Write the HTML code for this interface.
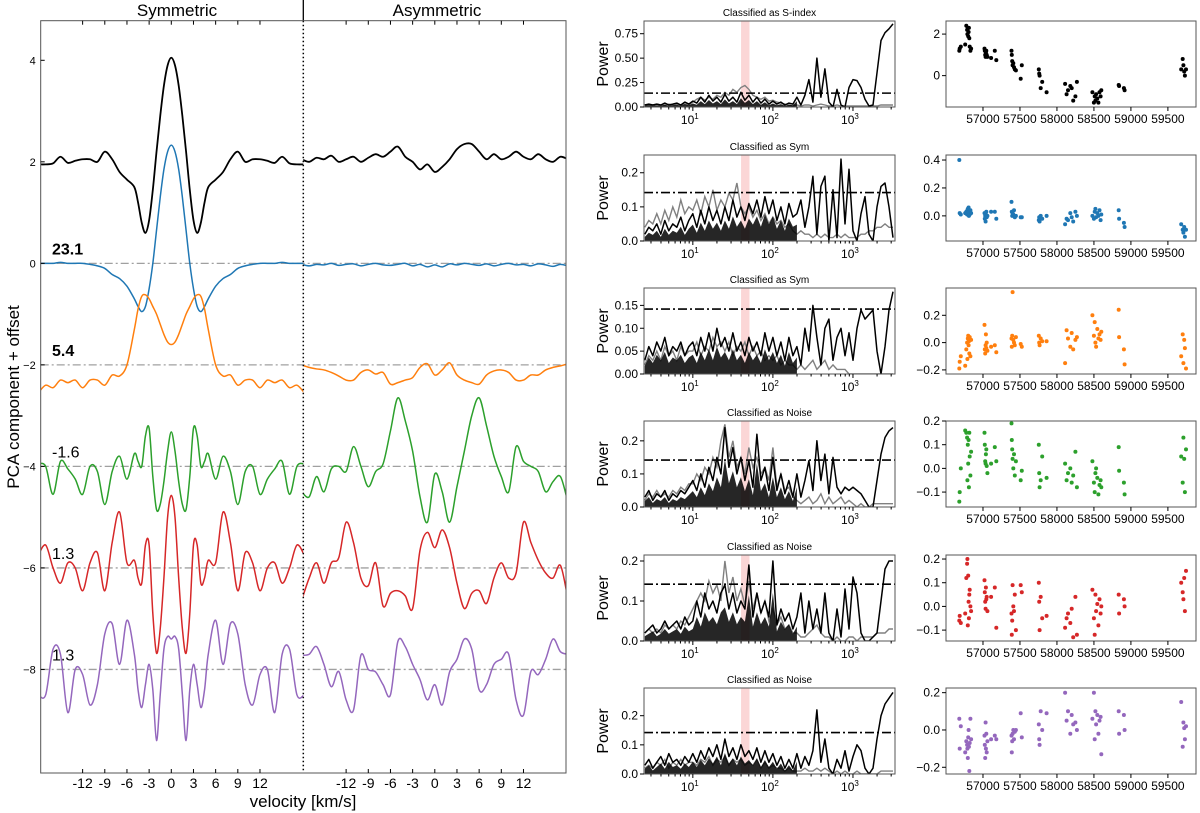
<!DOCTYPE html>
<html><head><meta charset="utf-8">
<style>
html,body{margin:0;padding:0;background:#fff;}
svg{display:block;font-family:"Liberation Sans","DejaVu Sans",sans-serif;}
</style></head>
<body>
<svg id="fig" width="1200" height="813" viewBox="0 0 1200 813" xmlns="http://www.w3.org/2000/svg"></svg>
<script>
// ---------------- DATA ----------------
// Left panel: PCA components (component value, offset added separately)
const offsets = [2, 0, -2, -4, -6, -8];
const colors = ["#000000", "#1f77b4", "#ff7f0e", "#2ca02c", "#d62728", "#9467bd"];
const compLabels = ["", "23.1", "5.4", "-1.6", "1.3", "1.3"];
const symV = [0,0.5,1,1.5,2,2.5,3,3.5,4,4.5,5,6,7,8,9,10,11,12,13,14,15,16,17,18];
const symBlack  = [2.05,1.9,1.5,0.9,0.2,-0.55,-1.15,-1.4,-1.2,-0.8,-0.5,-0.35,-0.2,0.05,0.2,0.0,0.05,0.05,0.02,-0.02,0.1,-0.03,-0.05,-0.05];
const symBlue   = [2.33,2.2,1.85,1.3,0.65,0.0,-0.5,-0.85,-0.95,-0.85,-0.7,-0.45,-0.3,-0.22,-0.1,-0.05,-0.02,0.0,0.0,0.0,0.02,0.0,0.0,0.0];
const symOrange = [0.4,0.45,0.6,0.8,1.0,1.15,1.3,1.38,1.35,1.1,0.7,0.0,-0.22,-0.2,-0.4,-0.3,-0.3,-0.45,-0.3,-0.35,-0.3,-0.45,-0.4,-0.55];
const symGreen  = [0.68,0.3,-0.3,-0.75,-0.85,-0.2,0.75,0.6,0.0,0.1,0.25,-0.25,0.2,-0.1,-0.75,-0.1,0.0,-0.55,-0.25,-0.05,0.1,-0.55,0.0,0.05];
const symRed    = [1.43,1.0,-0.2,-1.2,-1.68,-0.9,0.45,0.45,-0.3,-0.2,0.15,0.1,1.1,0.5,-0.45,0.3,0.1,-0.45,0.0,0.1,-0.3,0.0,0.45,0.25];
const symPurple = [0.6,0.65,0.4,-0.5,-1.4,-0.4,0.1,-0.3,-0.75,-0.4,0.3,0.97,0.1,0.9,0.7,-0.3,-0.7,-0.1,0.0,-0.85,0.3,0.4,-0.5,-0.5];
const asymV = [-18,-17,-16,-15,-14,-13,-12,-11,-10,-9,-8,-7,-6,-5,-4,-3,-2,-1,0,1,2,3,4,5,6,7,8,9,10,11,12,13,14,15,16,17,18];
const asymBlack  = [0.05,0.0,0.08,0.05,0.12,0.0,0.05,0.1,0.0,0.08,0.15,0.1,0.2,0.3,0.1,0.0,-0.15,-0.05,-0.2,-0.1,0.05,0.25,0.35,0.35,0.2,0.05,0.15,0.05,0.1,0.2,0.1,0.05,0.15,0.05,0.0,0.1,0.05];
const asymBlue   = [-0.02,-0.05,-0.02,-0.03,0.0,-0.04,-0.02,-0.01,-0.05,-0.02,0.0,-0.03,-0.04,-0.02,0.0,-0.05,-0.02,-0.07,-0.03,-0.07,-0.01,-0.03,0.0,-0.02,-0.04,-0.01,-0.05,-0.02,0.0,-0.03,-0.02,-0.05,-0.01,-0.03,-0.06,-0.02,-0.05];
const asymOrange = [0.0,-0.05,-0.08,-0.1,-0.15,-0.22,-0.3,-0.3,-0.15,-0.1,-0.18,-0.15,-0.38,-0.35,-0.3,-0.25,-0.05,0.02,-0.2,-0.1,0.04,-0.2,-0.3,-0.35,-0.38,-0.2,-0.12,-0.1,-0.15,-0.3,-0.3,-0.2,-0.2,-0.1,-0.05,-0.02,0.02];
const asymGreen  = [-0.5,-0.6,-0.2,-0.5,-0.05,0.0,-0.1,0.39,0.0,-0.4,-0.1,0.05,0.7,1.35,0.9,0.3,-0.6,-1.1,-0.15,-0.5,-1.1,-0.4,0.3,1.0,1.35,0.8,0.2,-0.2,-0.5,0.39,0.1,0.0,-0.1,-0.5,-0.3,-0.2,-0.7];
const asymRed    = [-0.63,-0.2,0.1,-0.3,0.1,0.2,0.9,0.5,-0.2,-0.35,0.1,-0.75,-0.5,-0.45,-0.55,-0.8,0.35,0.7,0.4,0.75,0.4,-0.3,-0.8,-0.5,-0.45,-0.7,-0.2,0.1,-0.2,-0.1,0.9,0.5,0.15,-0.1,-0.2,0.05,-0.6];
const asymPurple = [0.28,0.3,0.45,0.1,-0.34,-0.04,-0.6,-0.8,0.28,0.0,-0.05,-0.3,-0.5,0.55,0.45,0.1,-0.2,-0.6,-0.3,-0.7,-0.05,0.2,0.6,0.4,-0.4,-0.3,0.1,0.2,0.3,-0.6,-0.9,-0.04,-0.1,0.2,0.6,0.35,0.3];
const leftYTicks = [4, 2, 0, -2, -4, -6, -8];
const velTicks = [-12, -9, -6, -3, 0, 3, 6, 9, 12];

// Middle: periodograms on log10(period) grid 0.40..3.50 step 0.05
const logP = [];
for (let i = 0; i < 63; i++) logP.push(+(0.4 + 0.05 * i).toFixed(2));
const pgTitles = ["Classified as S-index","Classified as Sym","Classified as Sym","Classified as Noise","Classified as Noise","Classified as Noise"];
const pgYMax = [0.88, 0.252, 0.188, 0.26, 0.215, 0.295];
const pgThreshold = [0.142, 0.142, 0.142, 0.142, 0.142, 0.142];
const pgYTicks = [[0,0.25,0.5,0.75],[0,0.1,0.2],[0,0.05,0.1,0.15],[0,0.1,0.2],[0,0.1,0.2],[0,0.1,0.2]];
const pgYTickLabels = [["0.00","0.25","0.50","0.75"],["0.0","0.1","0.2"],["0.00","0.05","0.10","0.15"],["0.0","0.1","0.2"],["0.0","0.1","0.2"],["0.0","0.1","0.2"]];
const bandPeriods = [40, 51];
const pgBlack1 = [0.02,0.03,0.02,0.03,0.02,0.04,0.02,0.03,0.04,0.02,0.05,0.03, 0.06,0.04,0.1,0.05,0.12,0.06,0.1,0.05, 0.13,0.06,0.1,0.05,0.15,0.07,0.12,0.05,0.1,0.04,0.08,0.03, 0.06,0.03,0.05,0.02,0.04,0.03, 0.1,0.02,0.12,0.28,0.05,0.5,0.1, 0.39,0.05,0.0,0.18,0.02,0.0,0.2,0.28, 0.27,0.2,0.08,0.01,0.02,0.35,0.68,0.76,0.8,0.85];
const pgGray1  = [0.02,0.02,0.02,0.03,0.02,0.02,0.03,0.02,0.03,0.02,0.03,0.02, 0.05,0.08,0.1,0.07,0.1,0.08,0.12,0.1, 0.15,0.12,0.18,0.15,0.2,0.22,0.18,0.12,0.1,0.08,0.1,0.06, 0.07,0.05,0.04,0.03,0.02,0.01, 0.02,0.01,0.02,0.02,0.01,0.02,0.03,0.02,0.01,0.01,0.02,0.01,0.01,0.01,0.01,0.01,0.01,0.01,0.01,0.01,0.01,0.02,0.02,0.02,0.02];
const pgBlack2 = [0.02,0.04,0.03,0.05,0.02,0.06,0.03,0.05,0.04,0.07,0.03,0.06, 0.08,0.04,0.09,0.05,0.1,0.06,0.09,0.05, 0.1,0.06,0.12,0.07,0.1,0.06,0.11,0.08,0.12,0.07,0.13,0.08, 0.12,0.06,0.1,0.05,0.11,0.07, 0.08,0.12,0.04,0.1,0.19,0.02,0.16, 0.19,0.0,0.15,0.01,0.24,0.05,0.21,0.03, 0.0,0.08,0.13,0.02,0.0,0.1,0.16,0.17,0.1,0.01];
const pgGray2  = [0.04,0.06,0.05,0.08,0.05,0.09,0.06,0.1,0.07,0.12,0.08,0.1, 0.09,0.12,0.08,0.13,0.1,0.15,0.09,0.12, 0.1,0.14,0.12,0.17,0.1,0.08,0.1,0.07,0.09,0.06,0.08,0.05, 0.07,0.05,0.06,0.04,0.05,0.03, 0.02,0.03,0.02,0.02,0.01,0.02,0.01,0.02,0.01,0.01,0.02,0.01,0.02,0.01,0.01,0.01,0.02,0.02,0.03,0.03,0.04,0.04,0.05,0.04,0.04];
const pgBlack3 = [0.03,0.06,0.04,0.07,0.05,0.08,0.04,0.06,0.05,0.07,0.04,0.06, 0.07,0.04,0.08,0.05,0.09,0.05,0.1,0.06, 0.08,0.05,0.09,0.05,0.07,0.04,0.08,0.05,0.07,0.04,0.09,0.05, 0.08,0.04,0.07,0.03,0.08,0.04, 0.06,0.02,0.1,0.05,0.15,0.08,0.02, 0.1,0.12,0.03,0.08,0.1,0.04,0.09,0.03, 0.1,0.14,0.12,0.13,0.14,0.05,0.0,0.06,0.14,0.18];
const pgGray3  = [0.02,0.04,0.03,0.05,0.03,0.06,0.04,0.05,0.03,0.06,0.04,0.05, 0.05,0.07,0.04,0.06,0.05,0.08,0.06,0.07, 0.05,0.07,0.04,0.06,0.05,0.07,0.04,0.06,0.04,0.05,0.03,0.04, 0.03,0.04,0.02,0.03,0.02,0.02, 0.01,0.02,0.01,0.02,0.03,0.01,0.02,0.03,0.01,0.02,0.01,0.01,0.01,0,0,0,0,0,0,0,0,0,0,0,0];
const pgBlack4 = [0.03,0.05,0.02,0.04,0.03,0.05,0.02,0.04,0.03,0.05,0.04,0.06, 0.08,0.05,0.1,0.06,0.12,0.08,0.15,0.1, 0.24,0.12,0.18,0.1,0.15,0.08,0.14,0.06,0.22,0.08,0.12,0.05, 0.15,0.05,0.1,0.04,0.08,0.03, 0.1,0.03,0.08,0.14,0.05,0.2,0.08, 0.16,0.04,0.15,0.06,0.04,0.06,0.05,0.06, 0.05,0.04,0.02,0.0,0.0,0.08,0.16,0.21,0.23,0.24];
const pgGray4  = [0.02,0.04,0.03,0.05,0.03,0.04,0.03,0.05,0.04,0.06,0.05,0.07, 0.07,0.1,0.08,0.12,0.1,0.15,0.12,0.2, 0.25,0.15,0.2,0.12,0.15,0.1,0.18,0.12,0.15,0.1,0.12,0.08, 0.18,0.06,0.1,0.05,0.06,0.03, 0.02,0.01,0.02,0.03,0.01,0.02,0.04,0.01,0.03,0.01,0.02,0.03,0.01,0.02,0.01,0.0,0.01,0.0,0.0,0.01,0.01,0.01,0.01,0.01,0.01];
const pgBlack5 = [0.02,0.03,0.04,0.02,0.03,0.05,0.03,0.04,0.05,0.03,0.06,0.04, 0.05,0.1,0.06,0.12,0.08,0.1,0.07,0.12, 0.14,0.08,0.12,0.07,0.1,0.08,0.19,0.06,0.12,0.07,0.1,0.06, 0.2,0.04,0.08,0.05,0.07,0.03, 0.06,0.12,0.02,0.1,0.03,0.08,0.02, 0.12,0.02,0.0,0.08,0.01,0.13,0.03,0.16, 0.12,0.02,0.0,0.0,0.01,0.02,0.1,0.18,0.2,0.2];
const pgGray5  = [0.02,0.03,0.02,0.03,0.02,0.04,0.03,0.04,0.03,0.05,0.04,0.06, 0.08,0.1,0.12,0.1,0.15,0.12,0.14,0.1, 0.2,0.12,0.16,0.1,0.13,0.09,0.15,0.08,0.12,0.07,0.1,0.05, 0.08,0.04,0.06,0.03,0.04,0.02, 0.02,0.01,0.01,0.02,0.03,0.04,0.02,0.01,0.01,0.0,0.01,0.0,0.0,0.01,0.01,0.0,0.01,0.01,0.01,0.01,0.02,0.02,0.02,0.03,0.03];
const pgBlack6 = [0.03,0.05,0.02,0.04,0.06,0.03,0.07,0.04,0.05,0.03,0.06,0.04, 0.07,0.04,0.08,0.05,0.09,0.06,0.1,0.05, 0.12,0.06,0.09,0.05,0.1,0.06,0.08,0.05,0.09,0.04,0.08,0.04, 0.07,0.03,0.06,0.02,0.05,0.02, 0.07,0.02,0.06,0.03,0.08,0.22,0.04, 0.12,0.02,0.0,0.05,0.02,0.08,0.01,0.06, 0.1,0.08,0.02,0.0,0.02,0.12,0.2,0.24,0.26,0.28];
const pgGray6  = [0.02,0.03,0.02,0.04,0.03,0.05,0.02,0.04,0.03,0.05,0.03,0.04, 0.04,0.03,0.05,0.04,0.06,0.03,0.05,0.04, 0.06,0.03,0.05,0.04,0.05,0.03,0.04,0.03,0.05,0.02,0.04,0.02, 0.03,0.02,0.02,0.01,0.02,0.01, 0.01,0.01,0.02,0.01,0.01,0.02,0.01,0.02,0.01,0.0,0.01,0.0,0.01,0.0,0.0,0.01,0.0,0.0,0.0,0.0,0.0,0.01,0.01,0.01,0.01];

// Right: time series (shared observation times, BJD-2400000)
const times = [56680,56685,56700, 56760,56775,56785,56790,56795,56800,56805,56810,56815,56820,56830,56840, 57020,57025,57030,57035,57040,57045,57050,57060, 57110,57160,57180, 57385,57390,57395,57400,57410,57420,57430,57445, 57510,57525, 57755,57760,57765,57780,57800, 57860, 58110,58130,58150,58180,58200,58220,58250,58270, 58480,58500,58510,58520,58530,58545,58560,58575,58590,58600, 58835,58840,58905,58915, 59680,59700,59710,59720,59730,59745];
const tsSindex = [1.2,1.3,1.4, 1.5,2.4,2.2,2.0,2.3,1.9,2.1,2.3,1.8,1.4,1.2,1.3, 1.3,1.2,1.0,0.9,1.1,1.2,1.0,0.9, 0.85,1.2,0.75, 1.2,1.0,0.7,0.5,0.6,0.4,0.3,0.25, -0.15,0.5, 0.3,0.1,0.0,-0.6,-0.3, -0.8, -0.4,-0.9,-0.7,-0.5,-0.6,-1.2,-1.0,-0.3, -0.8,-1.3,-1.0,-1.2,-0.9,-1.1,-1.3,-0.8,-1.0,-0.7, -0.45,-0.5,-0.6,-0.7, 0.3,0.8,0.5,0.2,0.0,0.3];
const tsBlue = [0.4,0.02,0.01, 0.02,0.03,0.01,0.04,0.05,0.02,0.06,0.0,0.03,0.01,0.04,0.02, 0.02,-0.02,0.0,-0.04,0.01,0.03,-0.01,0.0, 0.03,0.03,-0.02, 0.1,0.03,0.0,0.02,0.01,0.04,-0.01,0.0, -0.01,-0.01, -0.03,-0.01,-0.04,0.0,-0.02, 0.0, -0.06,-0.02,-0.03,0.02,-0.01,-0.04,0.03,0.0, 0.0,-0.02,0.03,0.05,-0.01,0.02,0.0,0.04,-0.03,0.01, 0.04,-0.02,-0.05,-0.08, -0.06,-0.1,-0.12,-0.08,-0.15,-0.1];
const tsOrange = [-0.19,-0.14,-0.1, -0.17,-0.05,0.0,-0.12,0.03,0.05,-0.02,0.01,-0.08,0.04,-0.1,0.02, 0.13,-0.05,-0.08,-0.02,0.06,-0.04,0.0,-0.06, -0.03,-0.02,-0.07, 0.03,-0.03,0.05,0.37,0.02,0.0,-0.02,0.04, -0.01,-0.03, 0.05,0.0,-0.02,0.03,0.01, 0.01, -0.15,0.09,0.03,-0.03,0.07,-0.05,0.02,0.04, 0.2,0.05,0.15,0.0,-0.03,0.1,0.03,0.06,0.02,0.08, 0.24,0.04,-0.05,-0.16, -0.1,0.06,-0.15,0.02,-0.04,-0.19];
const tsGreen = [-0.14,-0.1,0.0, 0.16,0.15,0.13,-0.05,0.1,0.02,0.12,-0.08,0.15,0.05,-0.03,0.07, 0.15,0.1,0.03,0.02,0.06,0.08,0.01,-0.02, 0.02,0.09,0.03, 0.19,0.12,0.08,0.04,0.0,0.06,-0.03,0.03, -0.05,-0.01, 0.1,-0.02,-0.08,-0.05,0.05, -0.04, 0.02,-0.05,-0.02,0.0,-0.06,-0.03,0.07,-0.08, 0.03,-0.06,-0.1,-0.02,0.0,-0.04,-0.11,-0.07,-0.05,-0.08, 0.09,-0.01,-0.06,-0.11, 0.05,-0.06,0.13,0.04,-0.1,0.08];
const tsRed = [-0.06,-0.04,-0.07, -0.03,0.12,0.18,0.2,-0.08,0.13,0.02,-0.05,0.05,0.07,0.0,-0.02, 0.11,0.06,0.02,-0.01,0.08,0.03,0.04,-0.02, 0.04,0.08,-0.09, -0.03,-0.12,-0.06,0.09,0.0,-0.02,0.05,-0.1, 0.09,0.06, 0.1,0.02,-0.1,0.04,-0.05, -0.04, -0.09,-0.05,-0.03,-0.07,-0.01,-0.13,0.04,-0.12, 0.07,-0.05,-0.12,0.05,-0.02,0.01,-0.08,0.03,-0.03,0.0, 0.05,-0.03,0.03,0.0, 0.1,0.06,0.03,0.12,-0.02,0.15];
const tsPurple = [0.06,-0.1,0.02, -0.12,-0.06,-0.08,-0.1,-0.15,-0.04,0.0,-0.09,-0.22,-0.07,0.06,-0.05, -0.03,-0.08,-0.15,0.04,-0.1,-0.02,-0.12,-0.06, -0.05,-0.03,-0.05, -0.03,-0.12,-0.06,-0.02,0.0,-0.05,-0.01,0.0, 0.09,-0.04, 0.03,-0.05,-0.08,0.1,0.0, 0.09, 0.2,0.05,0.1,-0.02,0.08,0.03,0.04,0.0, 0.06,0.2,-0.05,0.1,0.03,0.08,-0.02,0.05,0.07,-0.13, 0.1,-0.02,0.08,0.0, 0.15,-0.09,0.04,0.01,-0.05,0.02];
const tsYMin = [-1.51, -0.18, -0.23, -0.163, -0.146, -0.236];
const tsYMax = [2.63, 0.436, 0.40, 0.20, 0.217, 0.225];
const tsYTicks = [[0,2],[0,0.2,0.4],[-0.2,0,0.2],[-0.1,0,0.1,0.2],[-0.1,0,0.1,0.2],[-0.2,0,0.2]];
const tsYTickLabels = [["0","2"],["0.0","0.2","0.4"],["−0.2","0.0","0.2"],["−0.1","0.0","0.1","0.2"],["−0.1","0.0","0.1","0.2"],["−0.2","0.0","0.2"]];
const timeTicks = [57000, 57500, 58000, 58500, 59000, 59500];

// ---------------- RENDER ----------------
const NS = "http://www.w3.org/2000/svg";
const svg = document.getElementById("fig");
function mk(tag, attrs, parent) {
  const e = document.createElementNS(NS, tag);
  for (const k in attrs) e.setAttribute(k, attrs[k]);
  (parent || svg).appendChild(e);
  return e;
}
function txt(s, attrs, parent) { const t = mk("text", attrs, parent); t.textContent = s; return t; }

const defs = mk("defs", {});
// ---- Left panel geometry ----
const L = {x0: 40.7, x1: 566, y0: 20.7, y1: 773};
const vScale = 7.39, symC = 171.3, asymC = 434.8, divX = 303.3;
const yMinL = -10.04, yMaxL = 4.78;
function yL(v) { return L.y0 + (yMaxL - v) / (yMaxL - yMinL) * (L.y1 - L.y0); }
function xSym(v) { return symC + v * vScale; }
function xAsym(v) { return asymC + v * vScale; }

let cp = mk("clipPath", {id: "clipSym"}, defs);
mk("rect", {x: L.x0, y: L.y0, width: divX - L.x0, height: L.y1 - L.y0}, cp);
cp = mk("clipPath", {id: "clipAsym"}, defs);
mk("rect", {x: divX, y: L.y0, width: L.x1 - divX, height: L.y1 - L.y0}, cp);

function smoothPath(pts) {
  let d = "M" + pts[0][0].toFixed(2) + "," + pts[0][1].toFixed(2);
  for (let i = 0; i < pts.length - 1; i++) {
    const p0 = pts[Math.max(0, i - 1)], p1 = pts[i], p2 = pts[i + 1], p3 = pts[Math.min(pts.length - 1, i + 2)];
    const c1x = p1[0] + (p2[0] - p0[0]) / 6, c1y = p1[1] + (p2[1] - p0[1]) / 6;
    const c2x = p2[0] - (p3[0] - p1[0]) / 6, c2y = p2[1] - (p3[1] - p1[1]) / 6;
    d += "C" + c1x.toFixed(2) + "," + c1y.toFixed(2) + " " + c2x.toFixed(2) + "," + c2y.toFixed(2) + " " + p2[0].toFixed(2) + "," + p2[1].toFixed(2);
  }
  return d;
}

const leftG = mk("g", {});



// zero lines (dash-dot gray)
offsets.slice(1).forEach(function(o) {
  const ln = mk("line", {x1: L.x0, x2: L.x1, y1: yL(o), y2: yL(o), stroke: "#a0a0a0", "stroke-width": 1.3, "stroke-dasharray": "8,3,2,3"}, leftG);
  
  
});

const symSeries = [symBlack, symBlue, symOrange, symGreen, symRed, symPurple];
const asymSeries = [asymBlack, asymBlue, asymOrange, asymGreen, asymRed, asymPurple];
const seriesNames = ["s-index", "pc1", "pc2", "pc3", "pc4", "pc5"];
for (let s = 0; s < 6; s++) {
  // symmetric: mirror
  const pts = [];
  for (let i = symV.length - 1; i > 0; i--) pts.push([xSym(-symV[i]), yL(symSeries[s][i] + offsets[s])]);
  for (let i = 0; i < symV.length; i++) pts.push([xSym(symV[i]), yL(symSeries[s][i] + offsets[s])]);
  const p1 = mk("path", {d: smoothPath(pts), fill: "none", stroke: colors[s], "stroke-width": s === 0 ? 1.8 : 1.5, "clip-path": "url(#clipSym)"}, leftG);
  
  
  const pts2 = asymV.map(function(v, i) { return [xAsym(v), yL(asymSeries[s][i] + offsets[s])]; });
  const p2 = mk("path", {d: smoothPath(pts2), fill: "none", stroke: colors[s], "stroke-width": s === 0 ? 1.8 : 1.5, "clip-path": "url(#clipAsym)"}, leftG);
  
  
  if (compLabels[s]) {
    const t = txt(compLabels[s], {x: 52, y: yL(offsets[s]) - 9, "font-size": 16, "font-weight": s <= 2 ? "bold" : "normal", fill: "#000"}, leftG);
    
    
  }
}
// divider
let dv = mk("line", {x1: divX, x2: divX, y1: L.y0, y2: L.y1, stroke: "#000", "stroke-width": 1.5, "stroke-dasharray": "1.5,2.5"}, leftG);


dv = mk("line", {x1: divX, x2: divX, y1: 0, y2: L.y0, stroke: "#000", "stroke-width": 1.3}, leftG);


// frame
let fr = mk("rect", {x: L.x0, y: L.y0, width: L.x1 - L.x0, height: L.y1 - L.y0, fill: "none", stroke: "#555", "stroke-width": 1}, leftG);


// y ticks
leftYTicks.forEach(function(t) {
  const y = yL(t);
  mk("line", {x1: L.x0, x2: L.x0 + 4, y1: y, y2: y, stroke: "#000", "stroke-width": 1}, leftG);
  const lb = txt(t < 0 ? "−" + Math.abs(t) : String(t), {x: L.x0 - 5, y: y + 4, "font-size": 11, "text-anchor": "end"}, leftG);
  
  
});
// x ticks (both halves, top & bottom)
[xSym, xAsym].forEach(function(fx) {
  velTicks.forEach(function(v) {
    const x = fx(v);
    mk("line", {x1: x, x2: x, y1: L.y0, y2: L.y0 + 4, stroke: "#000", "stroke-width": 1}, leftG);
    mk("line", {x1: x, x2: x, y1: L.y1, y2: L.y1 - 4, stroke: "#000", "stroke-width": 1}, leftG);
    const lb = txt(String(v), {x: x, y: L.y1 + 15, "font-size": 14, "text-anchor": "middle"}, leftG);
    
    
  });
});
let tt = txt("Symmetric", {x: 177, y: 16, "font-size": 17, "text-anchor": "middle"});


tt = txt("Asymmetric", {x: 437, y: 16, "font-size": 17, "text-anchor": "middle"});


tt = txt("velocity [km/s]", {x: 303, y: 807, "font-size": 17, "text-anchor": "middle"});


tt = txt("PCA component + offset", {x: 0, y: 0, "font-size": 17, "text-anchor": "middle", transform: "translate(19,397) rotate(-90)"});



// ---- Middle: periodograms ----
const rowTop = [21, 155, 288, 421, 555, 688];
const rowH = 86;
const M = {x0: 644, x1: 895, lmin: 0.39, lmax: 3.525};
function xM(l) { return M.x0 + (l - M.lmin) / (M.lmax - M.lmin) * (M.x1 - M.x0); }
const pgBlack = [pgBlack1, pgBlack2, pgBlack3, pgBlack4, pgBlack5, pgBlack6];
const pgGray = [pgGray1, pgGray2, pgGray3, pgGray4, pgGray5, pgGray6];
for (let r = 0; r < 6; r++) {
  const top = rowTop[r], bot = top + rowH;
  const yP = function(v) { return bot - v / pgYMax[r] * rowH; };
  const g = mk("g", {});
  
  
  const cid = "clipM" + r;
  const c = mk("clipPath", {id: cid}, defs);
  mk("rect", {x: M.x0, y: top, width: M.x1 - M.x0, height: rowH}, c);
  const band = mk("rect", {x: xM(Math.log10(bandPeriods[0])), y: top, width: xM(Math.log10(bandPeriods[1])) - xM(Math.log10(bandPeriods[0])), height: rowH, fill: "#f7b5b5", opacity: 0.55}, g);
  
  
  let d = "";
  logP.forEach(function(l, i) { d += (i ? "L" : "M") + xM(l).toFixed(1) + "," + yP(pgGray[r][i]).toFixed(1); });
  let pl = mk("path", {d: d, fill: "none", stroke: "#808080", "stroke-width": 1.4, "clip-path": "url(#" + cid + ")"}, g);
  
  
  d = "";
  logP.forEach(function(l, i) { d += (i ? "L" : "M") + xM(l).toFixed(1) + "," + yP(pgBlack[r][i]).toFixed(1); });
  pl = mk("path", {d: d, fill: "none", stroke: "#000", "stroke-width": 1.5, "stroke-linejoin": "round", "clip-path": "url(#" + cid + ")"}, g);
  
  
  // forest fill below 200 d
  d = "M" + xM(logP[0]) + "," + bot;
  logP.forEach(function(l, i) { if (l <= 2.3) d += "L" + xM(l).toFixed(1) + "," + yP(pgBlack[r][i] * 0.6).toFixed(1); });
  d += "L" + xM(2.3) + "," + bot + "Z";
  pl = mk("path", {d: d, fill: "#000", opacity: 0.85, "clip-path": "url(#" + cid + ")"}, g);
  
  
  const th = mk("line", {x1: M.x0, x2: M.x1, y1: yP(pgThreshold[r]), y2: yP(pgThreshold[r]), stroke: "#000", "stroke-width": 1.6, "stroke-dasharray": "9,3,2,3"}, g);
  
  
  const f = mk("rect", {x: M.x0, y: top, width: M.x1 - M.x0, height: rowH, fill: "none", stroke: "#555", "stroke-width": 1}, g);
  
  
  pgYTicks[r].forEach(function(t, k) {
    const y = yP(t);
    mk("line", {x1: M.x0 - 4, x2: M.x0, y1: y, y2: y, stroke: "#000", "stroke-width": 1}, g);
    const lb = txt(pgYTickLabels[r][k], {x: M.x0 - 6, y: y + 4, "font-size": 12, "text-anchor": "end"}, g);
    
    
  });
  for (let dec = 0; dec <= 3; dec++) {
    for (let m = 1; m <= 9; m++) {
      const l = dec + Math.log10(m);
      if (l < M.lmin || l > M.lmax) continue;
      const x = xM(l);
      mk("line", {x1: x, x2: x, y1: bot, y2: bot + (m === 1 ? 4 : 2.5), stroke: "#000", "stroke-width": 1}, g);
      if (m === 1 && dec >= 1) {
        const lb = txt("10", {x: x - 3, y: bot + 17, "font-size": 12, "text-anchor": "middle"}, g);
        const sup = mk("tspan", {dy: -5, "font-size": 8}, lb); sup.textContent = String(dec);
        
        
      }
    }
  }
  const ti = txt(pgTitles[r], {x: (M.x0 + M.x1) / 2, y: top - 5, "font-size": 10, "text-anchor": "middle"}, g);
  
  
  const yl = txt("Power", {x: 0, y: 0, "font-size": 16, "text-anchor": "middle", transform: "translate(608," + (top + rowH / 2) + ") rotate(-90)"}, g);
  
  
}

// ---- Right: time series ----
const R = {x0: 946, x1: 1196, tmin: 56500, tmax: 59880};
function xR(t) { return R.x0 + (t - R.tmin) / (R.tmax - R.tmin) * (R.x1 - R.x0); }
const tsSeries = [tsSindex, tsBlue, tsOrange, tsGreen, tsRed, tsPurple];
for (let r = 0; r < 6; r++) {
  const top = rowTop[r], bot = top + rowH;
  const yT = function(v) { return bot - (v - tsYMin[r]) / (tsYMax[r] - tsYMin[r]) * rowH; };
  const g = mk("g", {});
  
  
  const f = mk("rect", {x: R.x0, y: top, width: R.x1 - R.x0, height: rowH, fill: "none", stroke: "#555", "stroke-width": 1}, g);
  
  
  times.forEach(function(t, i) {
    const pt = mk("circle", {cx: xR(t).toFixed(1), cy: yT(tsSeries[r][i]).toFixed(1), r: 2, fill: colors[r]}, g);
    
    
  });
  tsYTicks[r].forEach(function(t, k) {
    const y = yT(t);
    mk("line", {x1: R.x0 - 4, x2: R.x0, y1: y, y2: y, stroke: "#000", "stroke-width": 1}, g);
    const lb = txt(tsYTickLabels[r][k], {x: R.x0 - 6, y: y + 4, "font-size": 12, "text-anchor": "end"}, g);
    
    
  });
  timeTicks.forEach(function(t) {
    const x = xR(t);
    mk("line", {x1: x, x2: x, y1: bot, y2: bot + 4, stroke: "#000", "stroke-width": 1}, g);
    const lb = txt(String(t), {x: x, y: bot + 16, "font-size": 12, "text-anchor": "middle"}, g);
    
    
  });
}
</script>
</body></html>
